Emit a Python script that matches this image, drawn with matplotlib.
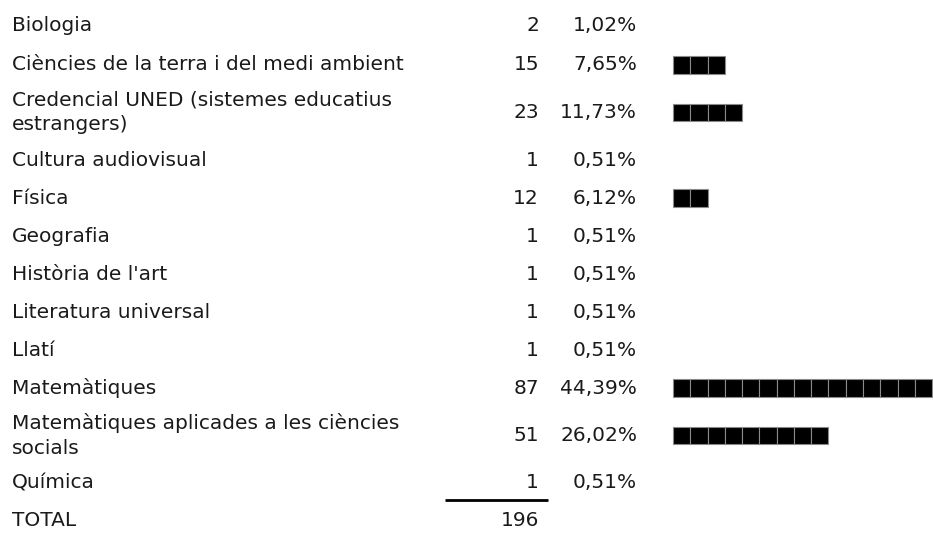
import matplotlib
matplotlib.use("Agg")
import matplotlib.pyplot as plt
from matplotlib.patches import Rectangle

# ---- data ----
categories = [
    "Biologia",
    "Ciències de la terra i del medi ambient",
    "Credencial UNED (sistemes educatius\nestrangers)",
    "Cultura audiovisual",
    "Física",
    "Geografia",
    "Història de l'art",
    "Literatura universal",
    "Llatí",
    "Matemàtiques",
    "Matemàtiques aplicades a les ciències\nsocials",
    "Química",
]
counts = [2, 15, 23, 1, 12, 1, 1, 1, 1, 87, 51, 1]
pct_labels = ["1,02%", "7,65%", "11,73%", "0,51%", "6,12%", "0,51%", "0,51%",
              "0,51%", "0,51%", "44,39%", "26,02%", "0,51%"]
total_label = "TOTAL"
total_value = 196

# ---- layout (pixel coordinates) ----
W, H = 933, 535
FS = 14.5
FONT = ["DejaVu Sans"]
TEXT_COLOR = "#1a1a1a"
x_label = 12
x_count = 539
x_pct = 637
x_bar0 = 673
sq_w, sq_h = 17.27, 17.3
pct_per_square = 3.0
y_top = 5
h_first = 41.0
h_single, h_double = 38.0, 57.0

fig = plt.figure(figsize=(W / 100, H / 100), dpi=100)
ax = fig.add_axes([0, 0, 1, 1])
ax.set_xlim(0, W)
ax.set_ylim(H, 0)
ax.axis("off")

y = y_top
centers = []
for i, cat in enumerate(categories):
    h = h_double if "\n" in cat else (h_first if i == 0 else h_single)
    centers.append(y + h / 2)
    y += h
y_rule = y - 2
y_total = y + h_single / 2 - 1

txt = dict(fontsize=FS, family=FONT, color=TEXT_COLOR, va="center")
for cat, c, p, yc in zip(categories, counts, pct_labels, centers):
    ax.text(x_label, yc, cat, ha="left", linespacing=1.4, **txt)
    ax.text(x_count, yc, str(c), ha="right", **txt)
    ax.text(x_pct, yc, p, ha="right", **txt)
    pct_val = float(p.rstrip("%").replace(",", "."))
    n = int(pct_val / pct_per_square + 0.5)
    for k in range(n):
        ax.add_patch(Rectangle((x_bar0 + k * sq_w, yc - sq_h / 2), sq_w, sq_h,
                               facecolor="black", edgecolor="#8a8a8a", linewidth=0.8))

ax.plot([445, 548], [y_rule, y_rule], color="black", linewidth=2, solid_capstyle="butt")
ax.text(x_label, y_total, total_label, ha="left", **txt)
ax.text(x_count, y_total, str(total_value), ha="right", **txt)

fig.savefig("out.png", dpi=100, facecolor="white")
